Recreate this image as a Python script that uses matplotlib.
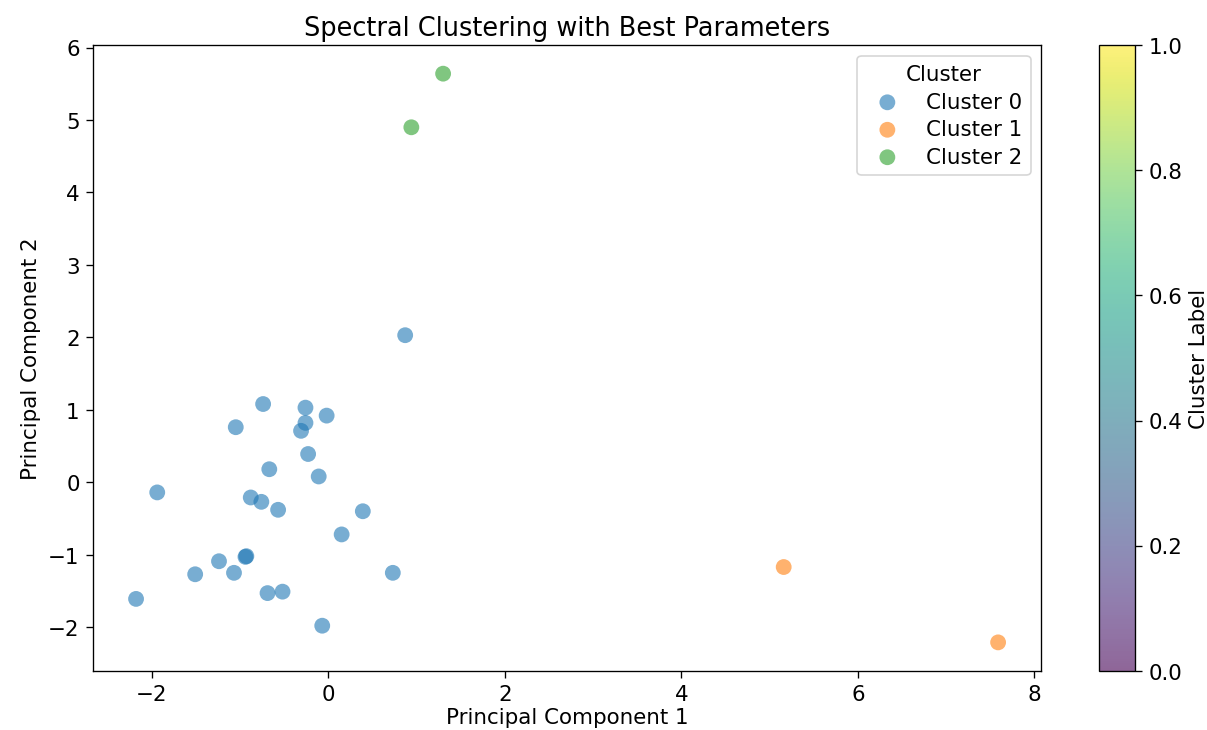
import matplotlib
matplotlib.use("Agg")
import matplotlib.pyplot as plt
import numpy as np

# cluster 0 points (PC1, PC2)
c0_x = [0.87, -0.74, -0.26, -0.02, -0.26, -0.31, -1.05, -0.23, -0.67, -0.11,
        -1.94, -0.88, -0.76, -0.57, 0.39, 0.15, -0.93, -0.94, -1.24, -1.51,
        -1.07, 0.73, -2.18, -0.69, -0.52, -0.07]
c0_y = [2.03, 1.08, 1.03, 0.92, 0.82, 0.71, 0.76, 0.39, 0.18, 0.08,
        -0.14, -0.21, -0.27, -0.38, -0.40, -0.72, -1.02, -1.03, -1.09, -1.27,
        -1.25, -1.25, -1.61, -1.53, -1.51, -1.98]
c1_x = [5.16, 7.59]
c1_y = [-1.17, -2.21]
c2_x = [1.30, 0.94]
c2_y = [5.64, 4.90]

clusters = [(c0_x, c0_y), (c1_x, c1_y), (c2_x, c2_y)]
labels = ['Cluster 0', 'Cluster 1', 'Cluster 2']
colors = ['tab:blue', 'tab:orange', 'tab:green']

k = 1.28  # reference was rendered a bit larger
plt.rcParams['font.size'] = 10 * k
plt.rcParams['xtick.major.size'] = 3.5 * k
plt.rcParams['ytick.major.size'] = 3.5 * k

fig = plt.figure(figsize=(10.06, 6.09), dpi=120)
ax = fig.add_axes([0.077, 0.081, 0.7855, 0.856])
cax = fig.add_axes([0.9105, 0.081, 0.0298, 0.856])

for (xs, ys), lab, col in zip(clusters, labels, colors):
    ax.scatter(xs, ys, s=90, c=col, alpha=0.6, label=lab, edgecolors='none')

ax.set_title('Spectral Clustering with Best Parameters', fontsize=12 * k)
ax.set_xlabel('Principal Component 1', labelpad=2)
ax.set_ylabel('Principal Component 2')
ax.legend(title='Cluster', loc='upper right', title_fontsize=10 * k,
          labelspacing=0.35)

# viridis with the same transparency as the points
vir = plt.get_cmap('viridis')(np.linspace(0, 1, 256))
vir[:, 3] = 0.6
cmap = matplotlib.colors.ListedColormap(vir)
sm = matplotlib.cm.ScalarMappable(cmap=cmap, norm=matplotlib.colors.Normalize(0, 1))
cbar = fig.colorbar(sm, cax=cax)
cbar.set_label('Cluster Label')

fig.savefig('out.png', dpi=120)
